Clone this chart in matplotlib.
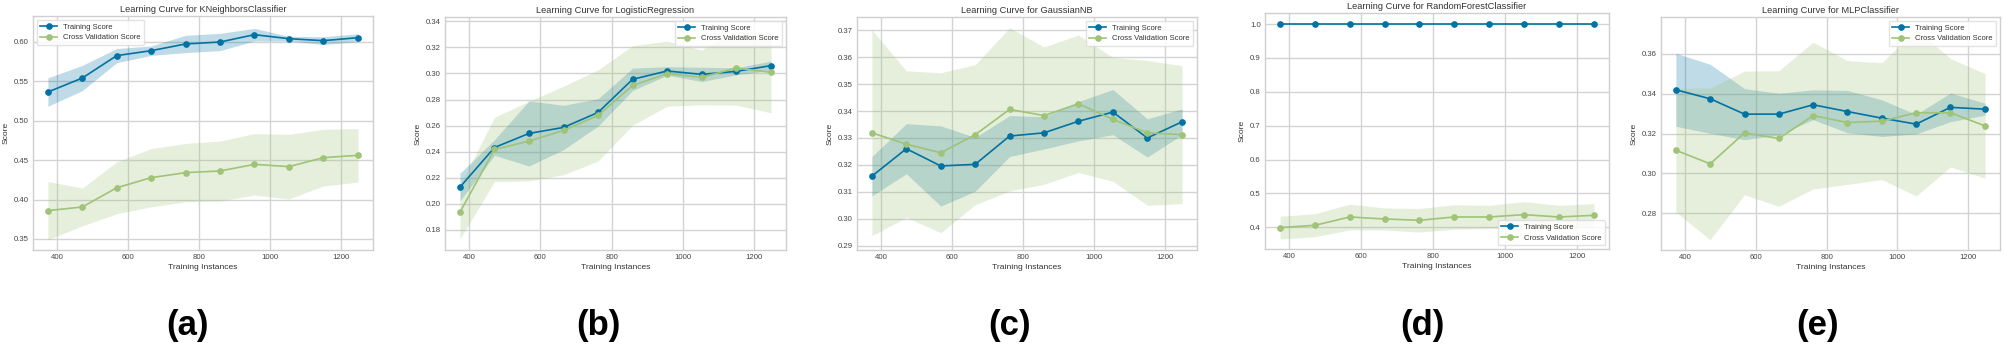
import matplotlib
matplotlib.use("Agg")
import matplotlib.pyplot as plt
import numpy as np

train_sizes = [374, 471, 568, 665, 762, 859, 956, 1053, 1150, 1248]

titles = ["KNeighborsClassifier", "LogisticRegression", "GaussianNB",
          "RandomForestClassifier", "MLPClassifier"]
panel_labels = ["(a)", "(b)", "(c)", "(d)", "(e)"]

knn_train = [0.5365, 0.5543, 0.5827, 0.589, 0.5975, 0.600, 0.6093, 0.6042, 0.6017, 0.6055]
knn_train_std = [0.018, 0.016, 0.009, 0.006, 0.011, 0.011, 0.008, 0.003, 0.005, 0.005]
knn_cv = [0.386, 0.3906, 0.415, 0.4278, 0.4342, 0.4363, 0.4447, 0.4418, 0.4532, 0.4562]
knn_cv_std = [0.037, 0.024, 0.033, 0.037, 0.037, 0.038, 0.039, 0.041, 0.036, 0.034]

lr_train = [0.2128, 0.2432, 0.254, 0.2586, 0.2701, 0.2955, 0.3019, 0.2993, 0.3016, 0.306]
lr_train_std = [0.0106, 0.006, 0.025, 0.017, 0.0105, 0.0086, 0.0033, 0.0055, 0.0027, 0.0036]
lr_cv = [0.1936, 0.2417, 0.2481, 0.2563, 0.2678, 0.2908, 0.2998, 0.297, 0.3042, 0.3008]
lr_cv_std = [0.0206, 0.0247, 0.0305, 0.034, 0.035, 0.0305, 0.025, 0.021, 0.0285, 0.031]

nb_train = [0.3158, 0.326, 0.3196, 0.3202, 0.3307, 0.3319, 0.3362, 0.3396, 0.330, 0.336]
nb_train_std = [0.0073, 0.0093, 0.0149, 0.010, 0.0076, 0.006, 0.0073, 0.0084, 0.0071, 0.0048]
nb_cv = [0.3319, 0.3277, 0.3245, 0.3312, 0.3406, 0.3383, 0.3427, 0.3369, 0.3319, 0.3312]
nb_cv_std = [0.0382, 0.0272, 0.0297, 0.026, 0.0303, 0.0255, 0.0255, 0.023, 0.0269, 0.0256]

rf_train = [1.0, 1.0, 1.0, 1.0, 1.0, 1.0, 1.0, 1.0, 1.0, 1.0]
rf_train_std = [0.0, 0.0, 0.0, 0.0, 0.0, 0.0, 0.0, 0.0, 0.0, 0.0]
rf_cv = [0.399, 0.406, 0.4305, 0.4246, 0.4207, 0.4305, 0.4305, 0.4374, 0.4305, 0.4354]
rf_cv_std = [0.0335, 0.034, 0.038, 0.0324, 0.0349, 0.036, 0.0345, 0.0384, 0.0345, 0.0345]

mlp_train = [0.3419, 0.3374, 0.3297, 0.3297, 0.3344, 0.331, 0.3277, 0.3247, 0.3331, 0.3322]
mlp_train_std = [0.0183, 0.0173, 0.0128, 0.0105, 0.0075, 0.0106, 0.0092, 0.0049, 0.0072, 0.003]
mlp_cv = [0.3116, 0.3048, 0.3203, 0.3175, 0.329, 0.3255, 0.3262, 0.3304, 0.3304, 0.3238]
mlp_cv_std = [0.031, 0.038, 0.031, 0.034, 0.0368, 0.031, 0.0293, 0.0417, 0.0272, 0.0262]

panels = [
    (knn_train, knn_train_std, knn_cv, knn_cv_std),
    (lr_train, lr_train_std, lr_cv, lr_cv_std),
    (nb_train, nb_train_std, nb_cv, nb_cv_std),
    (rf_train, rf_train_std, rf_cv, rf_cv_std),
    (mlp_train, mlp_train_std, mlp_cv, mlp_cv_std),
]

# layout (pixels) and styling
W, H = 2004, 344
axes_px = [(33, 16, 373, 250), (445, 17, 786, 250), (857, 17, 1197, 250),
           (1265, 13, 1609, 249), (1661, 17, 2000, 250)]
ylims = [(0.336, 0.633), (0.1646, 0.3433), (0.2884, 0.3749), (0.336, 1.0325), (0.2616, 0.3784)]
legend_locs = ["upper left", "upper right", "upper right", "lower right", "upper right"]
label_x = [187, 598, 1010, 1422, 1818]

C_TRAIN = "#0272a2"
C_CV = "#9fc377"

plt.rcParams["font.family"] = ["Liberation Sans", "DejaVu Sans"]
fig = plt.figure(figsize=(W / 100, H / 100), dpi=100)
fig.patch.set_facecolor("white")

x = np.array(train_sizes, dtype=float)
for i, (tr, trs, cv, cvs) in enumerate(panels):
    x0, y0, x1, y1 = axes_px[i]
    ax = fig.add_axes([x0 / W, 1 - y1 / H, (x1 - x0) / W, (y1 - y0) / H])
    ax.set_facecolor("white")
    tr = np.array(tr); trs = np.array(trs); cv = np.array(cv); cvs = np.array(cvs)
    ax.fill_between(x, tr - trs, tr + trs, color=C_TRAIN, alpha=0.25, lw=0)
    ax.fill_between(x, cv - cvs, cv + cvs, color=C_CV, alpha=0.25, lw=0)
    ax.plot(x, tr, "o-", color=C_TRAIN, lw=1.2, ms=3.8, label="Training Score")
    ax.plot(x, cv, "o-", color=C_CV, lw=1.2, ms=3.8, label="Cross Validation Score")
    ax.set_xlim(332, 1290)
    ax.set_ylim(*ylims[i])
    ax.set_xticks([400, 600, 800, 1000, 1200])
    ax.grid(True, color="#d3d3d3", lw=1.0)
    ax.set_axisbelow(True)
    for s in ax.spines.values():
        s.set_color("#cfcfcf")
        s.set_linewidth(1.0)
    ax.tick_params(axis="both", labelsize=5.6, colors="#444444", length=0, pad=3)
    ax.set_title("Learning Curve for " + titles[i], fontsize=6.7, color="#333333", pad=3)
    ax.set_xlabel("Training Instances", fontsize=6.1, color="#333333", labelpad=2)
    ax.set_ylabel("Score", fontsize=6.1, color="#333333", labelpad=3)
    leg = ax.legend(loc=legend_locs[i], fontsize=5.5, frameon=True, fancybox=True,
                    framealpha=0.85, edgecolor="#dddddd", borderpad=0.45,
                    handlelength=2.2, labelspacing=0.45)
    for t in leg.get_texts():
        t.set_color("#333333")
    fig.text(label_x[i] / W, 1 - 326 / H, panel_labels[i], ha="center", va="center",
             fontsize=25, fontweight="bold", family="Liberation Sans")

fig.savefig("out.png", dpi=100, facecolor="white")
